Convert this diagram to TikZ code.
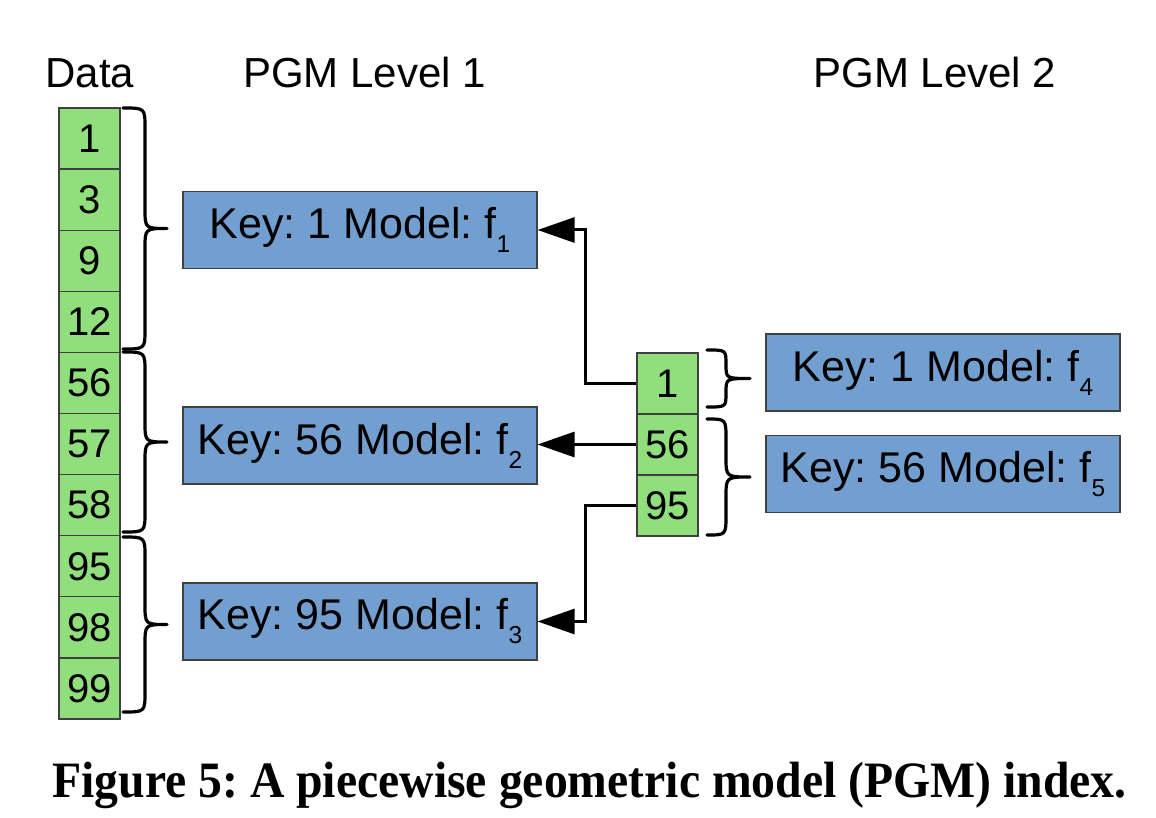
\documentclass[tikz,border=0pt]{standalone}
\usepackage{fontspec}
\setmainfont{Liberation Sans}
\newfontfamily\capfont{Liberation Serif}
\usetikzlibrary{arrows.meta}
\definecolor{cellgreen}{RGB}{145,222,125}
\definecolor{boxblue}{RGB}{114,159,207}
\newcommand\fsub[1]{\raisebox{-14pt}{\fontsize{24.5}{25}\selectfont #1}}
\newcommand\RBrace[6]{%
  \pgfmathsetmacro\bym{(#2+#3)/2}%
  \draw[bracestyle] (#1,#2) .. controls (#4,#2) .. (#4,{#2+#6})
    -- (#4,{\bym-#6}) .. controls (#4,\bym) .. (#5,\bym)
    .. controls (#4,\bym) .. (#4,{\bym+#6})
    -- (#4,{#3-#6}) .. controls (#4,#3) .. (#1,#3);}
\frenchspacing
\begin{document}
\begin{tikzpicture}[x=1pt,y=-1pt,
  every node/.style={font=\fontsize{42}{50}\selectfont},
  cell/.style={draw=black!75, line width=1.3pt, fill=cellgreen, minimum width=61pt,
    minimum height=61.1pt, inner sep=0pt, font=\fontsize{40}{48}\selectfont},
  model/.style={draw=black!75, line width=1.2pt, fill=boxblue, minimum width=354pt,
    minimum height=77pt, inner sep=0pt, font=\fontsize{43}{50}\selectfont},
  conn/.style={line width=3pt, -{Triangle[length=37pt,width=25pt]}},
  bracestyle/.style={line width=3.2pt, line cap=round, line join=round}]
\useasboundingbox (0,0) rectangle (1156,818);

% headers
\node[anchor=base] (tData) at (90,88) {Data};
\node[anchor=base] (tL1) at (364.5,88) {PGM Level 1};
\node[anchor=base] (tL2) at (935,88) {PGM Level 2};

% data column
\foreach \v [count=\i] in {1,3,9,12,56,57,58,95,98,99}
  \node[cell] (d\i) at (89.5,{108+61.1*(\i-0.5)}) {\v};

% level 1 models
\node[model] (b1) at (360,230) {Key: 1 Model: f\fsub{1}};
\node[model] (b2) at (360,445.5) {Key: 56 Model: f\fsub{2}};
\node[model] (b3) at (360,621.5) {Key: 95 Model: f\fsub{3}};

% level 2 keys
\node[cell] (l1) at (667.5,383.5) {1};
\node[cell] (l2) at (667.5,444.5) {56};
\node[cell] (l3) at (667.5,505.5) {95};

% level 2 models
\node[model] (b4) at (943,372.5) {Key: 1 Model: f\fsub{4}};
\node[model] (b5) at (943,474) {Key: 56 Model: f\fsub{5}};

% connectors
\draw[conn] (l1.west) -- ++(-50.5,0) |- (b1.east);
\draw[conn] (l2.west) -- (l2.west -| b2.east);
\draw[conn] (l3.west) -- ++(-50.5,0) |- (b3.east);

% braces
\RBrace{123}{108}{349}{145}{167}{20}
\RBrace{123}{352}{532}{145}{167}{20}
\RBrace{123}{537}{712}{145}{167}{20}
\RBrace{707}{350}{407}{726}{750}{14}
\RBrace{707}{419}{535}{726}{750}{20}

% caption
\node[anchor=base, inner sep=0pt, font=\capfont\bfseries\fontsize{51}{60}\selectfont] (cap) at (589.5,797)
  {\scalebox{0.935}[1]{Figure 5: A piecewise geometric model (PGM) index.}};
\end{tikzpicture}
\end{document}
